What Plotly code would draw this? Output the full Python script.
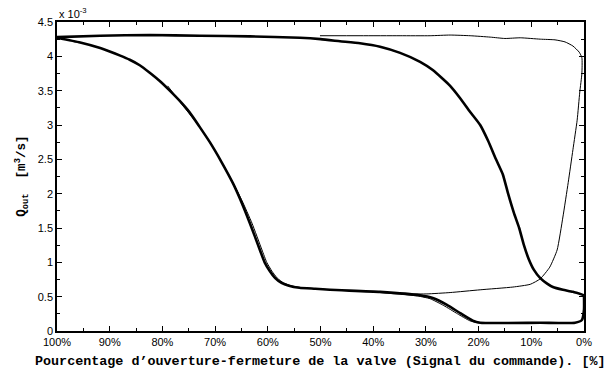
import plotly.graph_objects as go

# Valve opening percentage (x) and flow Q_out in units of 1e-3 m^3/s (y)
close_x = [100, 91.8, 82.4, 72.9, 63.4, 53.9, 50.0, 46.3, 42.5, 38.7, 34.9, 31.1, 28.7, 25.4, 23.5,
           21.6, 19.7, 18.2, 16.7, 15.4, 14.4, 13.3, 12.3, 11.4, 10.5, 9.5, 8.3, 7.0, 5.9, 4.0,
           2.1, 0]
close_y = [4.28, 4.30, 4.31, 4.30, 4.29, 4.27, 4.25, 4.22, 4.19, 4.14, 4.05, 3.92, 3.80, 3.57, 3.39,
           3.19, 3.00, 2.77, 2.50, 2.28, 2.00, 1.72, 1.50, 1.25, 1.05, 0.89, 0.77, 0.69, 0.64, 0.60,
           0.57, 0.52]

open_x = [0, 0, 0.4, 1.7, 8.3, 19.7, 21.1, 23.5, 26.0, 28.7, 31.1, 38.7, 48.2, 51.0, 54.0, 56.0,
          57.4, 58.6, 59.6, 60.6, 61.5, 63.4, 65.3, 66.6, 68.7, 71.0, 73.0, 74.8, 76.7, 78.6,
          80.5, 82.4, 84.3, 86.2, 88.0, 90.0, 91.8, 95.6, 100]
open_y = [0.52, 0.31, 0.16, 0.12, 0.12, 0.12, 0.15, 0.26, 0.38, 0.48, 0.52, 0.57, 0.60, 0.615,
          0.63, 0.66, 0.70, 0.77, 0.87, 1.00, 1.18, 1.57, 1.93, 2.15, 2.45, 2.75, 2.98, 3.18,
          3.35, 3.50, 3.64, 3.76, 3.87, 3.95, 4.01, 4.07, 4.12, 4.20, 4.27]

strand2_x = [79.0, 76.3, 73.4, 70.6, 68.3, 66.2, 64.9, 63.0, 61.1, 60.2, 59.2, 58.2, 57.0, 55.6,
             53.5, 48.0]
strand2_y = [3.57, 3.30, 3.02, 2.70, 2.40, 2.10, 1.90, 1.57, 1.18, 1.00, 0.87, 0.77, 0.70, 0.66,
             0.63, 0.60]

strand3_x = [38.7, 31.6, 29.2, 26.6, 24.0, 21.7, 20.2, 19.2]
strand3_y = [0.56, 0.51, 0.47, 0.37, 0.25, 0.15, 0.12, 0.12]

thin_x = [50.1, 42.5, 34.9, 29.2, 25.4, 21.6, 17.8, 15.0, 12.1, 8.3, 5.5, 3.6, 2.1, 0.9, 0.4,
          0.4, 0.8, 1.3, 2.1, 3.0, 4.0, 5.1, 6.5, 8.3, 10.2, 13.5, 19.7, 25.4, 29.8, 34.9]
thin_y = [4.30, 4.30, 4.30, 4.30, 4.31, 4.30, 4.28, 4.26, 4.27, 4.25, 4.24, 4.21, 4.15, 4.06, 3.98,
          3.75, 3.48, 3.07, 2.64, 2.16, 1.66, 1.18, 0.93, 0.76, 0.68, 0.64, 0.60, 0.56, 0.54, 0.54]

x_ticks = [0, 10, 20, 30, 40, 50, 60, 70, 80, 90, 100]
x_tick_text = ["0%", "10%", "20%", "30%", "40%", "50%", "60%", "70%", "80%", "90%", "100%"]
y_ticks = [0, 0.5, 1, 1.5, 2, 2.5, 3, 3.5, 4, 4.5]
y_tick_text = ["0", "0.5", "1", "1.5", "2", "2.5", "3", "3.5", "4", "4.5"]

line_shape = dict(shape="spline", smoothing=0.5)

fig = go.Figure()
fig.add_trace(go.Scatter(x=close_x, y=close_y, mode="lines", line=dict(color="black", width=2.6, **line_shape)))
fig.add_trace(go.Scatter(x=open_x, y=open_y, mode="lines", line=dict(color="black", width=2.6, **line_shape)))
fig.add_trace(go.Scatter(x=strand2_x, y=strand2_y, mode="lines", line=dict(color="black", width=1, **line_shape)))
fig.add_trace(go.Scatter(x=strand3_x, y=strand3_y, mode="lines", line=dict(color="black", width=1, **line_shape)))
fig.add_trace(go.Scatter(x=thin_x, y=thin_y, mode="lines", line=dict(color="black", width=1, **line_shape)))

tick_font = dict(family="Liberation Sans, Arial", size=11, color="black")
fig.update_layout(
    width=606, height=368,
    margin=dict(l=57, r=22, t=22, b=37),
    paper_bgcolor="white", plot_bgcolor="white",
    showlegend=False,
    xaxis=dict(range=[100, 0], tickvals=x_ticks, ticktext=x_tick_text, ticks="inside", ticklen=5,
               tickcolor="black", showline=True, linecolor="black", linewidth=1.5, mirror="allticks",
               showgrid=False, zeroline=False, tickfont=tick_font,
               minor=dict(dtick=5, ticks="inside", ticklen=3, tickcolor="black", showgrid=False)),
    yaxis=dict(range=[0, 4.5], tickvals=y_ticks, ticktext=y_tick_text, ticks="inside", ticklen=5,
               tickcolor="black", showline=True, linecolor="black", linewidth=1.5, mirror="allticks",
               showgrid=False, zeroline=False, tickfont=tick_font,
               minor=dict(dtick=0.25, ticks="inside", ticklen=3, tickcolor="black", showgrid=False)),
    annotations=[
        dict(text="x 10<sup>-3</sup>", xref="paper", yref="paper", x=0, y=1.0, xanchor="left",
             yanchor="bottom", showarrow=False, font=dict(family="Liberation Sans, Arial", size=11, color="black")),
        dict(text="<b>Q<sub>out</sub>\u00a0\u00a0[m<sup>3</sup>/s]</b>", xref="paper", yref="paper", x=-0.068, y=0.5,
             textangle=-90, xanchor="center", yanchor="middle", showarrow=False,
             font=dict(family="Liberation Mono, Courier New", size=12.5, color="black")),
        dict(text="<b>Pourcentage d’ouverture-fermeture de la valve (Signal du commande). [%]</b>",
             xref="paper", yref="paper", x=0.5, y=-0.068, xanchor="center", yanchor="top", showarrow=False,
             font=dict(family="Liberation Mono, Courier New", size=13.4, color="black")),
    ],
)

fig.write_html("out.html", config={"displayModeBar": False},
               post_script="document.body.style.margin='0';document.body.style.overflow='hidden';")
